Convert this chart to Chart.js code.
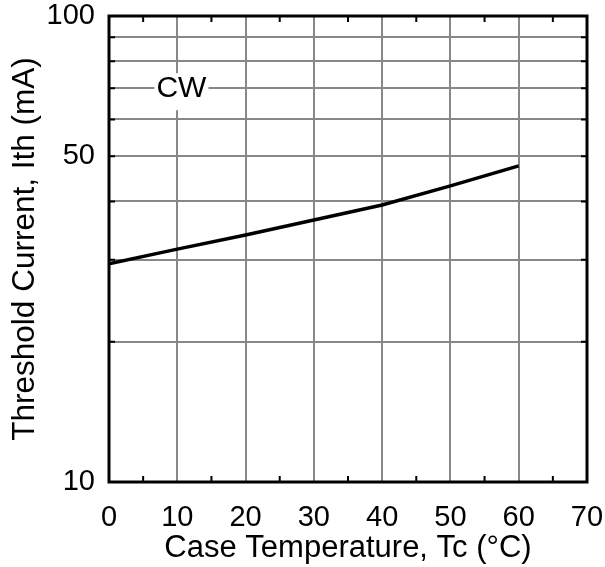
<!DOCTYPE html>
<html lang="en">
<head>
  <meta charset="UTF-8">
  <title>Threshold Current vs Case Temperature</title>
  <script src="https://cdn.jsdelivr.net/npm/chart.js"></script>
  <style>
    body { margin: 0; background: #fff; }
    #wrap { width: 605px; height: 567px; }
  </style>
</head>
<body>
  <div id="wrap">
    <canvas id="ithChart" width="605" height="567"></canvas>
  </div>

  <script>
    // values
    const caseTemps = [0, 10, 20, 30, 40, 50, 60];
    const thresholdCurrent = [29.4, 31.6, 33.9, 36.5, 39.3, 43.2, 47.7];

    // axis ticks
    const xMinorTicks = [5, 15, 25, 35, 45, 55, 65];
    const yGridTicks = [10, 20, 30, 40, 50, 60, 70, 80, 90, 100];
    const yLabelled = [10, 50, 100];

    // curve label
    const noteText = 'CW';
    const noteAt = { x: 10.6, y: 70 };

    const FONT = "'Liberation Sans', Arial, sans-serif";

    // white-backed "CW" label sitting on the grid
    const noteLabel = {
      id: 'noteLabel',
      afterDatasetsDraw(chart) {
        const { ctx, scales: { x, y } } = chart;
        const px = x.getPixelForValue(noteAt.x);
        const py = y.getPixelForValue(noteAt.y);
        ctx.save();
        ctx.font = `30px ${FONT}`;
        const w = ctx.measureText(noteText).width;
        ctx.fillStyle = '#fff';
        ctx.fillRect(px - w / 2 - 2, py - 15, w + 4, 37);
        ctx.fillStyle = '#000';
        ctx.textAlign = 'center';
        ctx.textBaseline = 'middle';
        ctx.fillText(noteText, px, py + 1);
        ctx.restore();
      }
    };

    // frame with inward ticks
    const frame = {
      id: 'frame',
      afterDraw(chart) {
        const { ctx, chartArea: a, scales: { x, y } } = chart;
        ctx.save();
        ctx.strokeStyle = '#000';
        ctx.lineWidth = 2;
        ctx.beginPath();
        xMinorTicks.forEach(v => {
          const px = x.getPixelForValue(v);
          ctx.moveTo(px, a.bottom); ctx.lineTo(px, a.bottom - 6);
          ctx.moveTo(px, a.top); ctx.lineTo(px, a.top + 6);
        });
        yGridTicks.forEach(v => {
          const py = y.getPixelForValue(v);
          ctx.moveTo(a.left, py); ctx.lineTo(a.left + 6, py);
          ctx.moveTo(a.right, py); ctx.lineTo(a.right - 6, py);
        });
        ctx.stroke();
        ctx.lineWidth = 3;
        ctx.strokeRect(a.left, a.top, a.right - a.left, a.bottom - a.top);
        ctx.restore();
      }
    };

    new Chart(document.getElementById('ithChart'), {
      type: 'line',
      data: {
        labels: caseTemps,
        datasets: [{
          data: caseTemps.map((t, i) => ({ x: t, y: thresholdCurrent[i] })),
          borderColor: '#000',
          borderWidth: 3.5,
          pointRadius: 0,
          tension: 0,
          fill: false
        }]
      },
      options: {
        responsive: false,
        devicePixelRatio: 1,
        animation: false,
        layout: { padding: { top: 16, right: 18, left: 0, bottom: 0 } },
        plugins: {
          legend: { display: false },
          tooltip: { enabled: false }
        },
        scales: {
          x: {
            type: 'linear',
            min: 0,
            max: 70,
            ticks: {
              stepSize: 10,
              autoSkip: false,
              maxRotation: 0,
              padding: 21,
              color: '#000',
              font: { family: FONT, size: 29, lineHeight: 1 }
            },
            grid: { color: '#888', lineWidth: 2, drawTicks: false },
            border: { display: false },
            title: {
              display: true,
              text: 'Case Temperature, Tc (°C)',
              color: '#000',
              padding: 0,
              font: { family: FONT, size: 31 }
            },
            afterFit: s => {
              s.height = 85;
              s.paddingLeft = 0;
              s.paddingRight = 0;
            }
          },
          y: {
            type: 'logarithmic',
            min: 10,
            max: 100,
            afterBuildTicks: s => {
              s.ticks = yGridTicks.map(v => ({ value: v }));
            },
            ticks: {
              autoSkip: false,
              padding: 14,
              color: '#000',
              font: { family: FONT, size: 29, lineHeight: 1 },
              callback: v => yLabelled.includes(v) ? String(v) : ''
            },
            grid: { color: '#888', lineWidth: 2, drawTicks: false },
            border: { display: false },
            title: {
              display: true,
              text: 'Threshold Current, Ith (mA)',
              color: '#000',
              padding: { top: 6, bottom: 0 },
              font: { family: FONT, size: 31.5 }
            },
            afterFit: s => {
              s.width = 109;
              s.paddingTop = 0;
              s.paddingBottom = 0;
            }
          }
        }
      },
      plugins: [noteLabel, frame]
    });
  </script>
</body>
</html>
